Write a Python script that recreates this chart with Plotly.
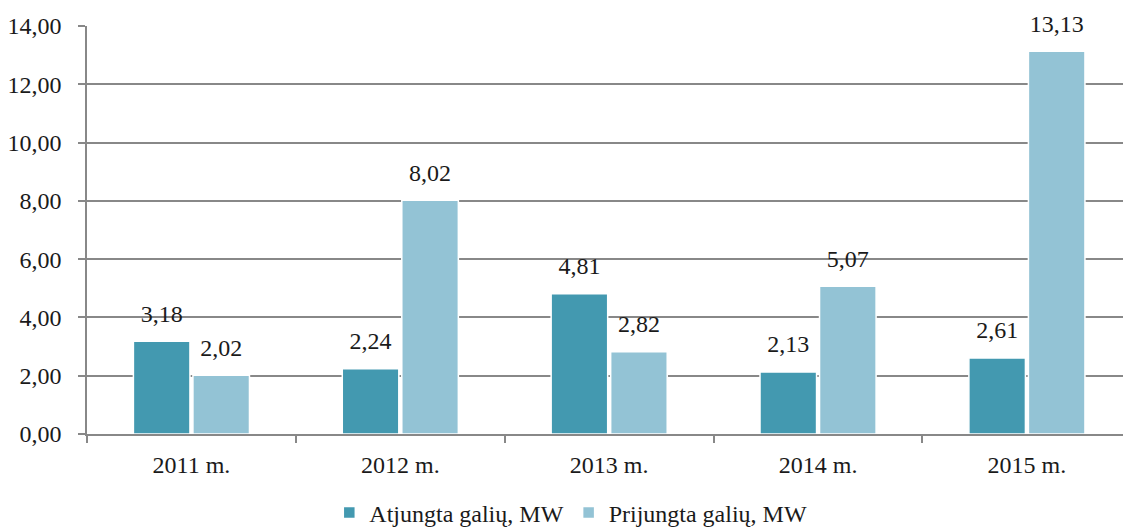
import plotly.graph_objects as go

categories = ["2011 m.", "2012 m.", "2013 m.", "2014 m.", "2015 m."]
atjungta = [3.18, 2.24, 4.81, 2.13, 2.61]
prijungta = [2.02, 8.02, 2.82, 5.07, 13.13]
series_names = ["Atjungta galių, MW", "Prijungta galių, MW"]
y_ticks = [0, 2, 4, 6, 8, 10, 12, 14]

font_family = "Liberation Serif"
fsize = 24
txt_color = "#1a1a1a"
dark = "#4399B0"
light = "#93C3D5"
gap = 0.43

fig = go.Figure()
for vals, name, col, grp in [(atjungta, series_names[0], dark, "a"),
                             (prijungta, series_names[1], light, "b")]:
    fig.add_trace(go.Bar(
        x=categories, y=vals, name=name, offsetgroup=grp,
        marker=dict(color=col, line=dict(color="white", width=1.5)),
    ))
for vals, grp in [(atjungta, "a"), (prijungta, "b")]:
    fig.add_trace(go.Scatter(
        x=categories, y=vals, mode="markers+text", offsetgroup=grp,
        text=[f"{v:.2f}".replace(".", ",") for v in vals],
        textposition="top center",
        marker=dict(size=20, opacity=0),
        textfont=dict(family=font_family, size=fsize, color=txt_color),
        showlegend=False, hoverinfo="skip", cliponaxis=False,
    ))

fig.update_layout(
    width=1123, height=531,
    margin=dict(l=87, r=0, t=26, b=97),
    paper_bgcolor="white", plot_bgcolor="white",
    separators=",.",
    barmode="group", bargap=gap, bargroupgap=0.05,
    scattermode="group", scattergap=gap,
    font=dict(family=font_family, size=fsize, color=txt_color),
    showlegend=True,
    legend=dict(orientation="h", x=0.467, xanchor="center",
                yref="container", y=0.034, yanchor="middle",
                font=dict(family=font_family, size=fsize, color=txt_color),
                itemwidth=30),
)
fig.update_xaxes(
    range=[-0.5, 4.46], automargin=False,
    showline=True, linecolor="#888888", linewidth=1.5,
    ticks="outside", ticklen=7, tickcolor="#888888", tickwidth=1.5,
    tickson="boundaries", ticklabelstandoff=8,
    showgrid=False,
    tickfont=dict(family=font_family, size=fsize, color=txt_color),
)
fig.update_yaxes(
    range=[0, 14], tickvals=y_ticks, tickformat=".2f", automargin=False,
    showline=True, linecolor="#888888", linewidth=1.5,
    ticks="outside", ticklen=7, tickcolor="#888888", tickwidth=1.5,
    ticklabelstandoff=12,
    showgrid=True, gridcolor="#888888", gridwidth=1.5,
    zeroline=False,
    tickfont=dict(family=font_family, size=fsize, color=txt_color),
)

fig.write_html("out.html", config={"displayModeBar": False},
               post_script="document.body.style.margin='0';document.body.style.overflow='hidden';")
